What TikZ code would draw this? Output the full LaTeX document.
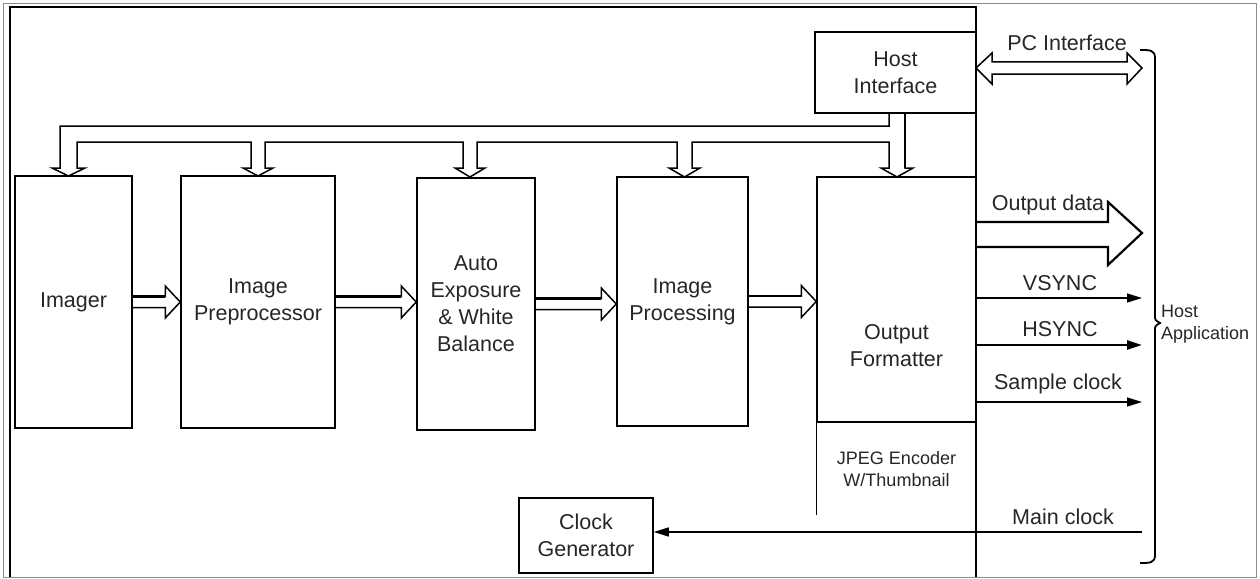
\documentclass[tikz,border=0pt]{standalone}
\usepackage{fontspec}
\setmainfont{Liberation Sans}
\usetikzlibrary{calc,arrows.meta}
\newcommand\mainsz{\fontsize{21.5}{27}\selectfont}
\newcommand\mysmall{\fontsize{18}{22}\selectfont}
\newcommand\hollowH[2]{%
  \draw[hollow] ($(#1)+(0,-5.5)$) -- ($(#2.west |- #1)+(-15,-5.5)$) -- ($(#2.west |- #1)+(-15,-16)$) -- (#2.west |- #1) -- ($(#2.west |- #1)+(-15,16)$) -- ($(#2.west |- #1)+(-15,5.5)$) -- ($(#1)+(0,5.5)$);
  \draw[line width=2.6pt] ($(#1)+(0,-5.5)$) -- ($(#2.west |- #1)+(-15,-5.5)$);}
\begin{document}
\begin{tikzpicture}[x=1pt,y=-1pt,
  box/.style={draw,line width=1.5pt,rectangle,inner sep=0pt,align=center,font=\mainsz,text=black!85},
  txt/.style={inner sep=0pt,align=center,font=\mainsz,text=black!85},
  stxt/.style={inner sep=0pt,align=center,font=\mysmall,text=black!85},
  hollow/.style={draw,line width=1.5pt,line join=miter},
  sig/.style={line width=1.4pt,-{Triangle[length=15pt,width=9pt]}},
]
\useasboundingbox (0,0) rectangle (1260,578);
% frames
\draw[black!45,line width=1pt] (3,4) rectangle (1256,577);
\draw[line width=2.6pt] (10,577) -- (10,7) -- (976,7) -- (976,577);

% blocks
\node[box,minimum width=161pt,minimum height=81pt] (host) at (895.5,72.5) {Host\\Interface};
\node[box,minimum width=117pt,minimum height=252pt] (imager) at (73.5,302) {Imager};
\node[box,minimum width=154pt,minimum height=252pt] (pre) at (258,302) {Image\\Preprocessor};
\node[box,minimum width=118pt,minimum height=252pt] (ae) at (476,304) {Auto\\Exposure\\\&{} White\\Balance};
\node[box,minimum width=131pt,minimum height=249pt] (proc) at (682.5,301.5) {Image\\Processing};
\node[box,minimum width=159pt,minimum height=245pt] (of) at (896.5,299.5) {};
\node[txt] (oftext) at (896.5,346) {Output\\Formatter};
\draw[line width=1.5pt] (of.south west) -- ++(0,92);
\node[stxt] (jpeg) at (896.5,469) {JPEG Encoder\\W/Thumbnail};
\node[box,minimum width=134pt,minimum height=75pt] (clk) at (586,535.5) {Clock\\Generator};

% control bus from host interface
\draw[hollow] (889,113) -- (889,126) -- (60,126) -- (60,168) -- (52,168) -- (68.5,176) -- (85,168) -- (77,168)
  -- (77,142) -- (251,142) -- (251,168) -- (243,168) -- (258,176) -- (273,168) -- (265,168)
  -- (265,142) -- (463,142) -- (463,168) -- (455,168) -- (470,177) -- (485,168) -- (477,168)
  -- (477,142) -- (677,142) -- (677,168) -- (669,168) -- (684.5,177) -- (700,168) -- (692,168)
  -- (692,142) -- (889,142) -- (889,168) -- (881,168) -- (897,177) -- (913,168) -- (905,168) -- (905,113);
\draw[line width=2.6pt] (905,113) -- (905,168);

% data path
\hollowH{imager.east}{pre}
\hollowH{pre.east}{ae}
\hollowH{ae.east}{proc}
\hollowH{proc.east}{of}

% PC interface double arrow
\draw[hollow] (992,62) -- (1127,62) -- (1127,53) -- (1142,68) -- (1127,84) -- (1127,74) -- (992,74) -- (992,84) -- (976,68) -- (992,53) -- cycle;
\node[txt] (pcl) at (1067,43) {PC Interface};

% output data
\draw[hollow,line width=2.2pt] (976,222) -- (1108,222) -- (1108,202) -- (1142,233) -- (1108,265) -- (1108,247) -- (976,247);
\node[txt] (odl) at (1048,205) {Output data};

% signals
\coordinate (vs) at (976,298);
\coordinate (hs) at (976,345);
\coordinate (sc) at (976,402);
\coordinate (vse) at (1142,298);
\coordinate (hse) at (1142,345);
\coordinate (sce) at (1142,402);
\draw[sig] (vs) -- (vse);
\draw[sig,line width=2.2pt] (hs) -- (hse);
\draw[sig] (sc) -- (sce);
\node[txt] (vsl) at (1060,283) {VSYNC};
\node[txt] (hsl) at (1060,329) {HSYNC};
\node[txt] (scl) at (1058,384) {Sample clock};

% main clock
\coordinate (mc) at (1142,532);
\draw[sig] (mc) -- (clk.east |- mc);
\node[txt] (mcl) at (1063,517) {Main clock};

% brace and host application
\draw[line width=1.8pt] (1140,50) .. controls (1150,50) and (1155,50) .. (1155,58) -- (1155,316)
  .. controls (1155,320) .. (1160,323) .. controls (1155,326) .. (1155,330) -- (1155,555)
  .. controls (1155,563) and (1150,563) .. (1140,563);
\node[stxt,anchor=west,align=left] (happ) at (1161,324) {Host\\Application};
\end{tikzpicture}
\end{document}
